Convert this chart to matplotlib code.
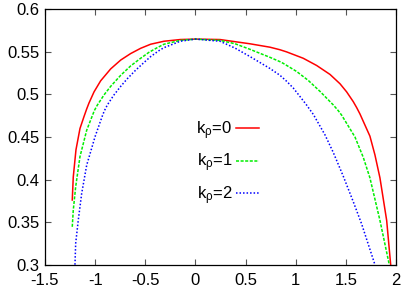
import numpy as np
import matplotlib
matplotlib.use("Agg")
import matplotlib.pyplot as plt

plt.rcParams['font.family'] = ['Liberation Sans', 'DejaVu Sans']
plt.rcParams['mathtext.fontset'] = 'custom'
plt.rcParams['mathtext.rm'] = 'Liberation Sans'
plt.rcParams['mathtext.it'] = 'Liberation Sans'
plt.rcParams['axes.unicode_minus'] = False

# curves
x_k0 = [-1.228, -1.218, -1.191, -1.151, -1.111, -1.084, -1.061, -1.011, -0.945, -0.845,
        -0.745, -0.646, -0.546, -0.446, -0.313, -0.15, 0.0, 0.245, 0.394, 0.544,
        0.743, 0.843, 0.909, 1.075, 1.209, 1.342, 1.442, 1.508, 1.574, 1.608,
        1.641, 1.740, 1.790, 1.840, 1.907, 1.947]
y_k0 = [0.376, 0.403, 0.435, 0.460, 0.474, 0.483, 0.490, 0.503, 0.516, 0.530,
        0.5404, 0.548, 0.5542, 0.559, 0.5625, 0.5645, 0.565, 0.5645, 0.562, 0.5595,
        0.5555, 0.5525, 0.550, 0.5425, 0.534, 0.5235, 0.5125, 0.503, 0.4915, 0.4845,
        0.477, 0.451, 0.429, 0.402, 0.352, 0.300]

x_k1 = [-1.228, -1.218, -1.194, -1.151, -1.084, -1.028, -1.008, -0.978, -0.911, -0.845,
        -0.745, -0.646, -0.546, -0.463, -0.380, -0.313, -0.15, 0.0, 0.245, 0.394,
        0.544, 0.743, 0.843, 0.876, 1.009, 1.125, 1.243, 1.376, 1.424, 1.459,
        1.591, 1.674, 1.740, 1.840, 1.933]
y_k1 = [0.3445, 0.364, 0.3915, 0.427, 0.458, 0.475, 0.481, 0.4875, 0.4995, 0.5095,
        0.5225, 0.5335, 0.5425, 0.5495, 0.555, 0.559, 0.5635, 0.565, 0.5635, 0.5596,
        0.553, 0.5436, 0.5385, 0.5365, 0.527, 0.5165, 0.5035, 0.4875, 0.481, 0.4755,
        0.450, 0.426, 0.402, 0.352, 0.300]

x_k2 = [-1.201, -1.194, -1.168, -1.134, -1.084, -1.001, -0.929, -0.909, -0.879, -0.815,
        -0.745, -0.679, -0.596, -0.513, -0.446, -0.363, -0.313, -0.15, 0.0, 0.245,
        0.394, 0.544, 0.743, 0.843, 0.909, 0.976, 1.043, 1.109, 1.142, 1.176,
        1.292, 1.374, 1.474, 1.574, 1.657, 1.790]
y_k2 = [0.300, 0.325, 0.3524, 0.3838, 0.417, 0.4503, 0.4745, 0.4805, 0.4875, 0.499,
        0.5095, 0.5185, 0.5285, 0.5375, 0.5445, 0.5515, 0.555, 0.5625, 0.565, 0.5625,
        0.5545, 0.5445, 0.5305, 0.5225, 0.5155, 0.5075, 0.4975, 0.4875, 0.482, 0.4765,
        0.4525, 0.432, 0.404, 0.374, 0.348, 0.300]

labels = [r'k$_\rho$=0', r'k$_\rho$=1', r'k$_\rho$=2']
xticks = [-1.5, -1, -0.5, 0, 0.5, 1, 1.5, 2]
yticks = [0.3, 0.35, 0.4, 0.45, 0.5, 0.55, 0.6]

fig = plt.figure(figsize=(4.15, 2.91), dpi=100)
ax = fig.add_axes([0.1084, 0.0904, 0.8458, 0.8776])

ax.plot(x_k0, y_k0, color='#ff0000', lw=1.1, label=labels[0])
ax.plot(x_k1, y_k1, color='#00ee00', lw=1.1, ls=(0, (2, 1)), label=labels[1])
ax.plot(x_k2, y_k2, color='#0000ff', lw=1.1, ls=(0, (1, 1.3)), label=labels[2])

ax.set_xlim(-1.5, 2)
ax.set_ylim(0.3, 0.6)
ax.set_xticks(xticks)
ax.set_xticklabels(['%g' % t for t in xticks])
ax.set_yticks(yticks)
ax.set_yticklabels(['%g' % t for t in yticks])
ax.tick_params(direction='in', top=True, right=True, length=4, width=0.8,
               labelsize=12, color='#555555')
ax.tick_params(axis='x', pad=6)
ax.tick_params(axis='y', pad=4)
for s in ax.spines.values():
    s.set_linewidth(0.9)

ax.legend(loc='upper right', bbox_to_anchor=(259 / 415, 1 - 119 / 291),
          bbox_transform=fig.transFigure, frameon=False, markerfirst=False,
          fontsize=12, handlelength=1.4, handletextpad=0.2, labelspacing=0.6,
          borderpad=0, borderaxespad=0)

fig.savefig('out.png', dpi=100)
